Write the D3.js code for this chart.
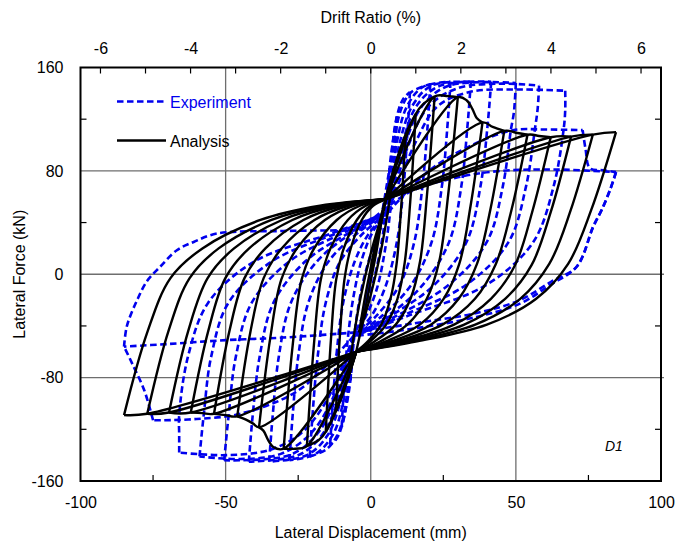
<!DOCTYPE html>
<html>
<head>
<meta charset="utf-8">
<script src="https://cdnjs.cloudflare.com/ajax/libs/d3/7.8.5/d3.min.js"></script>
<style>
  body { margin: 0; background: #fff; }
  svg text { font-family: Arial, "Liberation Sans", sans-serif; }
</style>
</head>
<body>
<svg id="chart" width="681" height="546"></svg>
<script>
// Axis ticks
const dispTicks = [-100, -50, 0, 50, 100];
const dispMinor = [-75, -25, 25, 75];
const forceTicks = [-160, -80, 0, 80, 160];
const forceMinor = [-120, -40, 40, 120];
const driftTicks = [-6, -4, -2, 0, 2, 4, 6];
const driftMinor = [-6, -5, -4, -3, -2, -1, 0, 1, 2, 3, 4, 5, 6];
const storyHeight = 1552; // mm, converts displacement to drift ratio

// Analysis (black): branches of the hysteresis, [displacement mm, force kN]
const analysisBranches = [
  [[0,0],[2,23],[4,45]],
  [[4,45],[2,18],[0,-5],[-2,-28],[-4,-45]],
  [[-4,-45],[-2,-18],[0,5],[2,28],[4,45]],
  [[4,45],[6,64],[8,82]],
  [[8,82],[6,50],[3.5,18],[0,-16],[-3,-40],[-5,-60]],
  [[-5,-60],[-6.5,-71],[-8,-82]],
  [[-8,-82],[-6,-50],[-3.5,-18],[0,16],[3,40],[5,58]],
  [[5,58],[8,82],[10,96],[12,108]],
  [[12,108],[10.4,49],[8.9,8],[6.8,-19],[3.6,-39],[-1,-52],[-5,-60]],
  [[-5,-60],[-8,-82],[-10,-95],[-12,-106]],
  [[-12,-106],[-10.5,-43],[-9,-3],[-6.9,20],[-3.1,42],[0.8,53],[5,58]],
  [[5,58],[8.5,84],[12,108],[13.8,117],[15.5,124]],
  [[15.5,124],[13.6,56],[11.7,9],[9.2,-19],[5.3,-39],[-0.2,-52],[-5,-60]],
  [[-5,-60],[-8.5,-84],[-12,-106],[-13.8,-115],[-15.5,-122]],
  [[-15.5,-122],[-13.7,-50],[-11.9,-4],[-9.3,20],[-4.8,42],[-0.1,53],[5,58]],
  [[5,58],[15.5,124],[18,131.5],[22,137.5]],
  [[22,137.5],[19.4,62],[17,10],[13.7,-19],[8.6,-39],[1.3,-52],[-5,-60]],
  [[-5,-60],[-15.5,-122],[-18,-128.5],[-22,-133]],
  [[-22,-133],[-19.6,-55],[-17.2,-4],[-13.9,20],[-7.9,42],[-1.7,53],[5,58]],
  [[5,58],[22,137.5],[26,138],[30,137]],
  [[30,137],[26.7,62],[23.6,10],[19.3,-19],[12.6,-39],[3.2,-52],[-5,-60]],
  [[-5,-60],[-22,-133],[-26,-135],[-30,-135]],
  [[-30,-135],[-26.9,-55],[-23.8,-4],[-19.5,20],[-11.7,42],[-3.7,53],[5,58]],
  [[5,58],[30,137],[33,134.7],[35,128],[36.5,121],[38.5,117.5]],
  [[38.5,117.5],[34.4,53],[30.5,8],[25.1,-19],[16.9,-39],[5.2,-52],[-5,-60]],
  [[-5,-60],[-30,-135],[-33.6,-133.7],[-35.3,-128.5],[-37,-121],[-38.5,-118.5]],
  [[-38.5,-118.5],[-34.6,-49],[-30.8,-4],[-25.4,20],[-15.8,42],[-5.9,53],[5,58]],
  [[5,58],[38.5,117.5],[42,114],[46,111]],
  [[46,111],[41.2,50],[36.6,8],[30.3,-19],[20.7,-39],[7,-52],[-5,-60]],
  [[-5,-60],[-38.5,-118.5],[-40.5,-115.6],[-43,-112.5],[-46,-110]],
  [[-46,-110],[-41.5,-45],[-36.9,-3],[-30.7,20],[-19.4,42],[-7.7,53],[5,58]],
  [[5,58],[46,111],[50,109.5],[54,108]],
  [[54,108],[48.4,49],[43.1,8],[35.9,-19],[24.7,-39],[8.9,-52],[-5,-60]],
  [[-5,-60],[-46,-110],[-50,-109],[-54,-108]],
  [[-54,-108],[-48.7,-44],[-43.5,-3],[-36.3,20],[-23.2,42],[-9.7,53],[5,58]],
  [[5,58],[54,108],[58,107],[62,106]],
  [[62,106],[55.6,48],[49.7,7],[41.4,-19],[28.7,-39],[10.7,-52],[-5,-60]],
  [[-5,-60],[-54,-108],[-58,-107.5],[-62,-107]],
  [[-62,-107],[-56,-44],[-50.1,-3],[-41.9,20],[-27,42],[-11.7,53],[5,58]],
  [[5,58],[62,106],[69,106.5]],
  [[69,106.5],[62,48],[55.4,7],[46.3,-19],[32.2,-39],[12.4,-52],[-5,-60]],
  [[-5,-60],[-62,-107],[-69.5,-107]],
  [[-69.5,-107],[-62.9,-44],[-56.2,-3],[-47.1,20],[-30.6,42],[-13.6,53],[5,58]],
  [[5,58],[69,106.5],[76.5,108]],
  [[76.5,108],[68.8,49],[61.5,8],[51.5,-19],[36,-39],[14.2,-52],[-5,-60]],
  [[-5,-60],[-69.5,-107],[-77,-108]],
  [[-77,-108],[-69.7,-44],[-62.4,-3],[-52.4,20],[-34.2,42],[-15.5,53],[5,58]],
  [[5,58],[76.5,108],[84.5,110]],
  [[84.5,110],[76,50],[68,8],[57,-19],[40,-39],[16,-52],[-5,-60]],
  [[-5,-60],[-77,-108],[-85,-109]],
  [[-85,-109],[-77,-45],[-69,-3],[-58,20],[-38,42],[-17.5,53],[5,58]]
];

// Experiment (blue dashed): measured hysteresis branches
const experimentBranches = [
  [[0,0],[1.5,17],[3,35]],
  [[3,35],[1,10],[-1,-12],[-3,-35]],
  [[-3,-35],[-1,-10],[1,12],[3,35]],
  [[3,35],[5,62],[6.5,82]],
  [[6.5,82],[5.5,55],[4,28],[1.5,0],[-2,-28],[-6,-48]],
  [[-6,-48],[-6.5,-66],[-7,-82]],
  [[-7,-82],[-6,-55],[-4.5,-28],[-2,0],[2,28],[6,48]],
  [[6,48],[6.5,82],[7.8,105],[9,122]],
  [[9,122],[8.2,90],[7,55],[5,20],[2,-12],[-2,-34],[-6,-48]],
  [[-6,-48],[-7,-82],[-8.5,-103],[-10,-118]],
  [[-10,-118],[-9.2,-86],[-8,-52],[-6,-18],[-3,12],[1,34],[6,48]],
  [[6,48],[7.5,100],[9,122],[11,135],[13.5,141]],
  [[13.5,141],[12.6,108],[11.2,65],[9,25],[5,-10],[0,-33],[-6,-48]],
  [[-6,-48],[-8,-95],[-10,-118],[-12,-128],[-14,-132]],
  [[-14,-132],[-13.1,-100],[-11.7,-60],[-9.5,-22],[-5.5,10],[-0.5,32],[6,48]],
  [[6,48],[8,100],[10.5,128],[14,141],[20.5,147]],
  [[20.5,147],[19.5,112],[17.8,68],[15,25],[10,-8],[2,-32],[-6,-48]],
  [[-6,-48],[-8.5,-98],[-11,-122],[-15,-135],[-21,-141]],
  [[-21,-141],[-20,-107],[-18.3,-64],[-15.5,-22],[-10.5,10],[-2.5,32],[6,48]],
  [[6,48],[9,102],[12.5,130],[18,145],[27.5,149]],
  [[27.5,149],[26.4,114],[24.5,68],[21,25],[14,-8],[4,-32],[-6,-48]],
  [[-6,-48],[-9.5,-99],[-13,-124],[-19,-139],[-28,-144]],
  [[-28,-144],[-26.9,-109],[-25,-64],[-21.5,-22],[-14.5,10],[-4.5,32],[6,48]],
  [[6,48],[10,102],[14.5,131],[21,146],[34.5,149]],
  [[34.5,149],[33.3,114],[31.2,68],[27,25],[18,-8],[6,-32],[-6,-48]],
  [[-6,-48],[-10.5,-99],[-15,-125],[-22,-140],[-35,-145]],
  [[-35,-145],[-33.8,-110],[-31.7,-64],[-27.5,-22],[-18.5,10],[-6.5,32],[6,48]],
  [[6,48],[11,102],[16,131],[24,146],[41.5,149]],
  [[41.5,149],[40.2,114],[37.8,68],[33,25],[22,-8],[7,-32],[-6,-48]],
  [[-6,-48],[-11.5,-99],[-17,-125],[-25,-140],[-42,-145]],
  [[-42,-145],[-40.7,-110],[-38.3,-64],[-33.5,-22],[-22.5,10],[-7.5,32],[6,48]],
  [[6,48],[12,102],[18,131],[27,146],[50,148]],
  [[50,148],[49.3,125],[48.3,112],[45.5,68],[40,25],[27,-8],[9,-32],[-6,-48]],
  [[-6,-48],[-12.5,-99],[-19,-125],[-28,-140],[-50.5,-144]],
  [[-50.5,-144],[-49,-110],[-46.5,-64],[-41,-22],[-28,10],[-9.5,32],[6,48]],
  [[6,48],[13,100],[20,130],[30,144],[45,147.5],[58,146]],
  [[58,146],[57.5,128],[56.6,113],[53.5,68],[47.5,25],[33,-8],[11,-32],[-6,-48]],
  [[-6,-48],[-13.5,-98],[-21,-124],[-31,-139],[-45,-143],[-59,-141]],
  [[-59,-141],[-57.5,-108],[-55,-64],[-49,-22],[-34,10],[-11.5,32],[6,48]],
  [[6,48],[15,100],[23,130],[34,141],[50,143],[67,142]],
  [[67,142],[67,127],[66.5,113],[63,68],[56,25],[40,-8],[13,-32],[-6,-48]],
  [[-6,-48],[-15,-97],[-24,-123],[-35,-136],[-50,-140],[-66,-138]],
  [[-66,-138],[-66,-124],[-66,-109],[-63,-64],[-56,-22],[-40,10],[-13,32],[6,48]],
  [[6,48],[20,80],[35,100],[49,111.5],[60,112],[73,111.5]],
  [[73,111.5],[74,97],[75.5,82],[80,80.5],[84.5,79]],
  [[84.5,79],[82.4,65],[79.5,49.5],[76.6,36.6],[71,6],[62,-8],[51.4,-22.7],[36.5,-33],[15,-42],[-6,-48]],
  [[-6,-48],[-25,-90],[-45,-108],[-60,-112],[-71.5,-113],[-75,-113]],
  [[-75,-113],[-78,-90],[-82,-70],[-85,-56]],
  [[-85,-56],[-84,-40],[-80.5,-20],[-77,-5],[-72.6,5.7],[-66.8,18.6],[-61,25],[-53,31.5],[-30,33.5],[-4,34]],
  [[-4,34],[13.5,63.7],[30,75],[45,80],[65,81],[84.5,79]],
  [[84.5,79],[82.4,65],[79.5,49.5],[76.6,36.6],[71,6],[62,-6],[51.4,-20],[36.5,-30],[15,-38],[-5,-45]],
  [[-5,-45],[-30,-49],[-50,-51],[-70,-54],[-85,-56]]
];

const legendItems = [
  { label: "Experiment", color: "#0000ee", dash: "6.5,3.5" },
  { label: "Analysis", color: "#000000", dash: null }
];

const svg = d3.select("#chart");

const x = d3.scaleLinear().domain([-100, 100]).range([80.5, 661]);
const y = d3.scaleLinear().domain([-160, 160]).range([481, 67.5]);
const xDrift = d3.scaleLinear()
  .domain([-100 / storyHeight * 100, 100 / storyHeight * 100])
  .range([80.5, 661]);

// grid lines
const grid = svg.append("g").attr("stroke", "#6e6e6e").attr("stroke-width", 1.3);
grid.selectAll("line.v").data([-50, 0, 50]).enter().append("line")
  .attr("x1", d => x(d)).attr("x2", d => x(d))
  .attr("y1", y(-160)).attr("y2", y(160));
grid.selectAll("line.h").data([-80, 0, 80]).enter().append("line")
  .attr("y1", d => y(d)).attr("y2", d => y(d))
  .attr("x1", x(-100)).attr("x2", x(100) + 3);

// axes: labels from d3 axes, plain hyphen minus
const fmt = d => String(d);
const tickLen = 6;
const bottomAxis = d3.axisBottom(x).tickValues(dispTicks).tickSize(0).tickPadding(16).tickFormat(fmt);
const leftAxis = d3.axisLeft(y).tickValues(forceTicks).tickSize(0).tickPadding(17).tickFormat(fmt);
const topAxis = d3.axisTop(xDrift).tickValues(driftTicks).tickSize(0).tickPadding(14).tickFormat(fmt);

function styleAxis(g) {
  g.select(".domain").remove();
  g.selectAll("text").attr("font-size", 16).attr("fill", "#000")
    .attr("font-family", "Arial, 'Liberation Sans', sans-serif");
}
svg.append("g").attr("transform", `translate(0,${y(-160)})`).call(bottomAxis).call(styleAxis);
svg.append("g").attr("transform", `translate(${x(-100)},0)`).call(leftAxis).call(styleAxis);
svg.append("g").attr("transform", `translate(0,${y(160)})`).call(topAxis).call(styleAxis);

const ticks = svg.append("g").attr("stroke", "#000").attr("stroke-width", 1.2);
ticks.selectAll("line.b").data(dispMinor).enter().append("line")
  .attr("x1", d => x(d)).attr("x2", d => x(d))
  .attr("y1", y(-160)).attr("y2", y(-160) - tickLen);
ticks.selectAll("line.t").data(driftMinor).enter().append("line")
  .attr("x1", d => xDrift(d)).attr("x2", d => xDrift(d))
  .attr("y1", y(160)).attr("y2", y(160) + tickLen);
ticks.selectAll("line.l").data(forceMinor).enter().append("line")
  .attr("x1", x(-100)).attr("x2", x(-100) + tickLen)
  .attr("y1", d => y(d)).attr("y2", d => y(d));
ticks.selectAll("line.r").data(forceMinor).enter().append("line")
  .attr("x1", x(100)).attr("x2", x(100) - tickLen)
  .attr("y1", d => y(d)).attr("y2", d => y(d));

// hysteresis curves
const lineGen = d3.line()
  .x(d => x(d[0])).y(d => y(d[1]))
  .curve(d3.curveCatmullRom.alpha(0.5));

svg.append("g").attr("fill", "none")
  .attr("stroke", legendItems[0].color).attr("stroke-width", 2.6)
  .attr("stroke-dasharray", legendItems[0].dash)
  .selectAll("path").data(experimentBranches).enter().append("path")
  .attr("d", lineGen);

svg.append("g").attr("fill", "none")
  .attr("stroke", legendItems[1].color).attr("stroke-width", 2.4)
  .attr("stroke-linejoin", "round")
  .selectAll("path").data(analysisBranches).enter().append("path")
  .attr("d", lineGen);

// frame
svg.append("rect")
  .attr("x", x(-100)).attr("y", y(160))
  .attr("width", x(100) - x(-100)).attr("height", y(-160) - y(160))
  .attr("fill", "none").attr("stroke", "#000").attr("stroke-width", 2);

// legend
const legend = svg.append("g");
legendItems.forEach((item, i) => {
  const ly = 101.5 + i * 39;
  legend.append("line")
    .attr("x1", 117).attr("x2", 166).attr("y1", ly).attr("y2", ly)
    .attr("stroke", item.color).attr("stroke-width", 2.6)
    .attr("stroke-dasharray", item.dash);
  legend.append("text")
    .attr("x", 170).attr("y", ly + 6)
    .attr("font-size", 16).attr("fill", item.color)
    .text(item.label);
});

// axis titles
svg.append("text").attr("x", (x(-100) + x(100)) / 2).attr("y", 538)
  .attr("text-anchor", "middle").attr("font-size", 16).text("Lateral Displacement (mm)");
svg.append("text").attr("x", (x(-100) + x(100)) / 2).attr("y", 23)
  .attr("text-anchor", "middle").attr("font-size", 16).text("Drift Ratio (%)");
svg.append("text")
  .attr("transform", `translate(25,${y(0)}) rotate(-90)`)
  .attr("text-anchor", "middle").attr("font-size", 16).text("Lateral Force (kN)");

// specimen tag
svg.append("text").attr("x", 605).attr("y", 451)
  .attr("font-size", 14).attr("font-style", "italic").text("D1");
</script>
</body>
</html>
